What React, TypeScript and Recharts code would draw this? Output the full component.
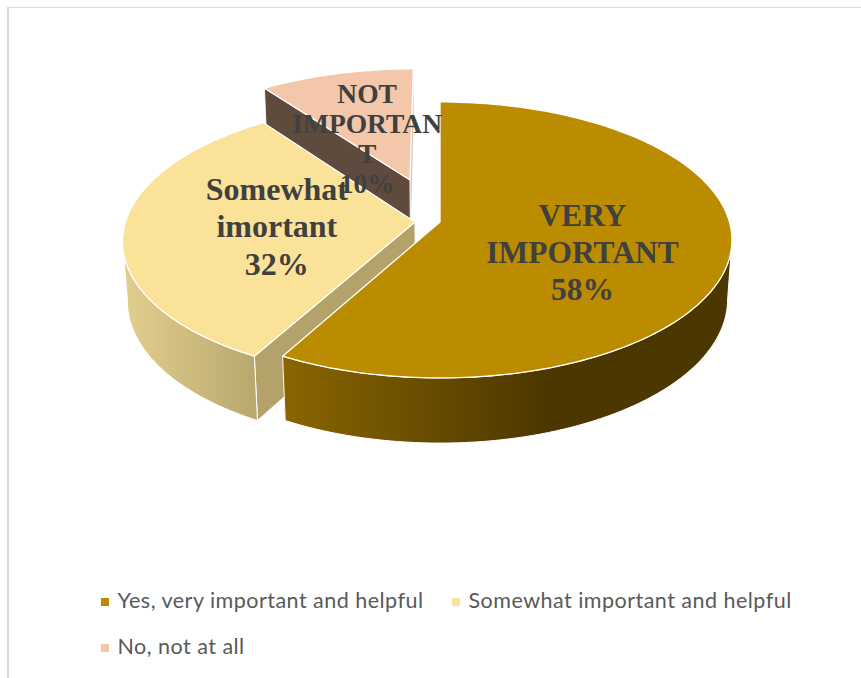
import React from 'react';
import { PieChart, Pie, Legend } from 'recharts';

const CATEGORIES = ['Yes, very important and helpful', 'Somewhat important and helpful', 'No, not at all'];
const SHARES = [58, 32, 10];
const SLICE_LABELS = [['VERY', 'IMPORTANT'], ['Somewhat', 'imortant'], ['NOT', 'IMPORTAN', 'T']];

const TOP_COLORS = ['#bb8c00', '#fbe299', '#f4c7ab'];
const EDGE_COLORS = ['#4d3700', '#b3a26a', '#5f4b3d'];
const FAR_EDGE_COLORS = ['#4d3700', '#b3a26a', '#dcc4b6'];
const RIM_STOPS = [
  [['0%', '#8a6600'], ['58%', '#4d3700'], ['100%', '#4d3700']],
  [['0%', '#e2cf8f'], ['100%', '#b8a76e']],
  [['0%', '#5f4b3d'], ['100%', '#5f4b3d']],
];

// explosion of each slice on the pie's plane, in fractions of the radius
const EXPLODE = [[0, 0], [-0.0864, 0], [-0.108, 0.3225]];
const LABEL_STYLE = [
  { size: 31.5, line: 37, radius: 0.5, nudge: [0, 13] },
  { size: 32, line: 37.5, radius: 0.5, nudge: [7, 0] },
  { size: 27.5, line: 30, radius: 0.5, nudge: [-4, 14] },
];

// perspective tilt of the 3D pie
const TILT = 0.4687;
const PERSPECTIVE = 0.13;
const DROP = 0.2072;
const DEEPEN = 0.015;

const W = 861;
const H = 678;

// painted back to front, so the table runs the other way round the pie
const rows = CATEGORIES.map((name, i) => ({ name, value: SHARES[i], slice: i })).reverse();

const rad = (d: number) => (d * Math.PI) / 180;

function projector(cx: number, cy: number, r: number, slice: number) {
  const [ex, ey] = EXPLODE[slice];
  return (theta: number, frac: number, low: boolean) => {
    const u = Math.sin(rad(theta)) * frac + ex;
    const v = Math.cos(rad(theta)) * frac + ey;
    const w = 1 + PERSPECTIVE * v + (low ? DEEPEN : 0);
    return [cx + (r * u) / w, cy + (r * (-TILT * v + (low ? DROP : 0))) / w];
  };
}

const toPath = (pts: number[][]) =>
  pts.map((p, i) => `${i ? 'L' : 'M'}${p[0].toFixed(2)} ${p[1].toFixed(2)}`).join(' ') + ' Z';

const arcAngles = (from: number, to: number) => {
  const out: number[] = [];
  for (let a = from; a < to; a += 1.5) out.push(a);
  out.push(to);
  return out;
};

const Slice3D = (props: any) => {
  const { cx, cy, outerRadius, startAngle, endAngle, payload } = props;
  const slice = payload.slice;
  const from = 450 - endAngle;
  const to = 450 - startAngle;
  const at = projector(cx, cy, outerRadius, slice);
  const gradId = `rim-${slice}`;

  // only the part of the rim turned towards the viewer is drawn
  const silhouette = (Math.acos(-PERSPECTIVE) * 180) / Math.PI;
  const rimFrom = Math.max(from, silhouette);
  const rimTo = Math.min(to, 360 - silhouette);

  const top = [at(0, 0, false), ...arcAngles(from, to).map((a) => at(a, 1, false))];
  const side = [at(from, 0, false), at(from, 1, false), at(from, 1, true), at(from, 0, true)];
  const farSide = [at(to, 0, false), at(to, 1, false), at(to, 1, true), at(to, 0, true)];

  return (
    <g>
      <defs>
        <linearGradient id={gradId} x1="0" y1="0" x2="1" y2="0">
          {RIM_STOPS[slice].map(([offset, color]) => (
            <stop key={offset} offset={offset} stopColor={color} />
          ))}
        </linearGradient>
      </defs>
      <path d={toPath(farSide)} fill={FAR_EDGE_COLORS[slice]} />
      <path d={toPath(side)} fill={EDGE_COLORS[slice]} stroke="#fff" strokeWidth={1} strokeLinejoin="round" />
      {rimFrom < rimTo && (
        <path
          d={toPath([
            ...arcAngles(rimFrom, rimTo).map((a) => at(a, 1, false)),
            ...arcAngles(rimFrom, rimTo).reverse().map((a) => at(a, 1, true)),
          ])}
          fill={`url(#${gradId})`}
          stroke="#fff"
          strokeWidth={1}
          strokeLinejoin="round"
        />
      )}
      <path d={toPath(top)} fill={TOP_COLORS[slice]} stroke="#fff" strokeWidth={1.3} strokeLinejoin="round" />
    </g>
  );
};

const SliceLabel = (props: any) => {
  const { cx, cy, outerRadius, startAngle, endAngle, payload } = props;
  const slice = payload.slice;
  const style = LABEL_STYLE[slice];
  const mid = 450 - (startAngle + endAngle) / 2;
  const [x, y] = projector(cx, cy, outerRadius, slice)(mid, style.radius, false);
  const lines = [...SLICE_LABELS[slice], `${payload.value}%`];
  const lx = x + style.nudge[0];
  const ly = y + style.nudge[1] - ((lines.length - 1) * style.line) / 2;
  return (
    <text
      x={lx}
      y={ly}
      textAnchor="middle"
      fontFamily="'Liberation Serif', serif"
      fontWeight="bold"
      fontSize={style.size}
      fill="#404040"
      dominantBaseline="central"
    >
      {lines.map((t, i) => (
        <tspan key={i} x={lx} y={ly + i * style.line}>
          {t}
        </tspan>
      ))}
    </text>
  );
};

const LEGEND_SLOTS = [
  { left: 101, top: 586 },
  { left: 452, top: 586 },
  { left: 101, top: 632 },
];

const LegendBlock = () => (
  <div style={{ position: 'relative', width: W, height: 90 }}>
    {CATEGORIES.map((name, i) => (
      <div
        key={name}
        style={{
          position: 'absolute',
          left: LEGEND_SLOTS[i].left,
          top: LEGEND_SLOTS[i].top - 585,
          display: 'flex',
          alignItems: 'center',
          height: 28,
          whiteSpace: 'nowrap',
        }}
      >
        <span style={{ width: 8, height: 8, background: TOP_COLORS[i], marginRight: 8.5, marginTop: 4 }} />
        <span style={{ fontFamily: 'Lato', fontSize: 21.5, letterSpacing: 0.48, color: '#595959' }}>{name}</span>
      </div>
    ))}
  </div>
);

export default function App() {
  return (
    <div style={{ position: 'absolute', left: 0, top: 0, width: W, height: H, background: '#fff', overflow: 'hidden' }}>
      <div style={{ position: 'absolute', left: 7, top: 7, width: W - 7, height: H, boxSizing: 'border-box', borderLeft: '2px solid #d9d9d9', borderTop: '1px solid #d9d9d9' }} />
      <PieChart width={W} height={H} margin={{ top: 0, right: 0, bottom: 0, left: 0 }}>
        <Pie
          data={rows}
          dataKey="value"
          nameKey="name"
          cx={440}
          cy={222}
          innerRadius={0}
          outerRadius={289.5}
          startAngle={90}
          endAngle={450}
          stroke="none"
          isAnimationActive={false}
          labelLine={false}
          label={SliceLabel}
          shape={Slice3D}
        />
        <Legend content={LegendBlock} wrapperStyle={{ position: 'absolute', left: 0, top: 585, width: W }} />
      </PieChart>
    </div>
  );
}
